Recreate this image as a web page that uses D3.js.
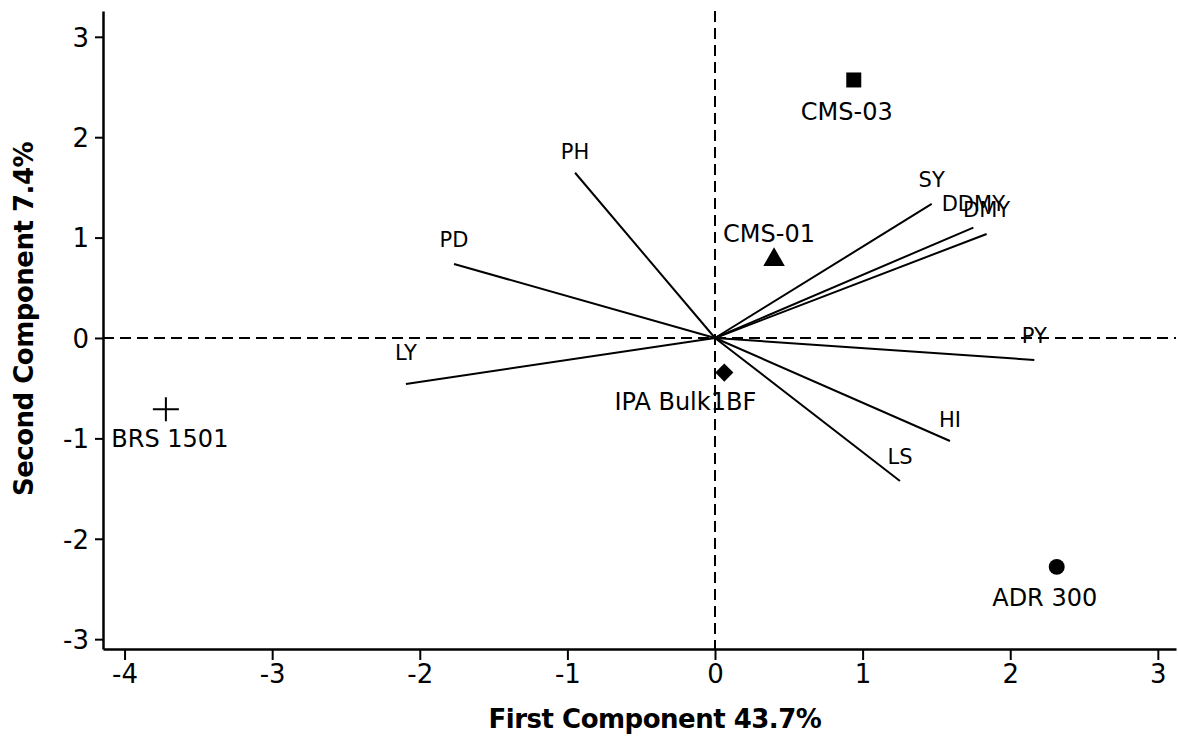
<!DOCTYPE html>
<html>
<head>
<meta charset="utf-8">
<script src="https://cdn.jsdelivr.net/npm/d3@7"></script>
<style>
  html, body { margin: 0; padding: 0; background: #fff; }
  svg { display: block; font-family: "DejaVu Sans", Verdana, sans-serif; }
</style>
</head>
<body>
<div id="chart"></div>
<script>
// genotype scores (first / second component)
const genotypes = ['CMS-03', 'CMS-01', 'IPA Bulk1BF', 'BRS 1501', 'ADR 300'];
const genoPC1 = [0.94, 0.40, 0.063, -3.72, 2.315];
const genoPC2 = [2.57, 0.78, -0.345, -0.71, -2.28];
const genoSymbol = ['square', 'triangle', 'diamond', 'plus', 'circle'];

// trait loadings
const traits = ['PH', 'PD', 'LY', 'SY', 'DDMY', 'DMY', 'PY', 'HI', 'LS'];
const traitPC1 = [-0.948, -1.768, -2.094, 1.468, 1.75, 1.84, 2.163, 1.592, 1.253];
const traitPC2 = [1.646, 0.737, -0.458, 1.335, 1.10, 1.036, -0.219, -1.026, -1.424];

const xTicks = [-4, -3, -2, -1, 0, 1, 2, 3];
const yTicks = [-3, -2, -1, 0, 1, 2, 3];
const xTitle = 'First Component 43.7%';
const yTitle = 'Second Component 7.4%';

const width = 1178, height = 737;
const margin = {top: 11, right: 2, bottom: 88, left: 103};

const svg = d3.select('#chart').append('svg')
    .attr('width', width)
    .attr('height', height);

const x = d3.scaleLinear()
    .domain([-4.146, 3.123])
    .range([margin.left, width - margin.right]);
const y = d3.scaleLinear()
    .domain([-3.098, 3.257])
    .range([height - margin.bottom, margin.top]);

// reference lines through origin
svg.append('line')
    .attr('x1', x(0)).attr('x2', x(0))
    .attr('y1', y.range()[1]).attr('y2', y.range()[0])
    .attr('stroke', '#000').attr('stroke-width', 2)
    .attr('stroke-dasharray', '11 6');
svg.append('line')
    .attr('x1', x.range()[0]).attr('x2', x.range()[1])
    .attr('y1', y(0)).attr('y2', y(0))
    .attr('stroke', '#000').attr('stroke-width', 2)
    .attr('stroke-dasharray', '11 6');

// axes
const fmt = d => String(d);
const xAxis = d3.axisBottom(x).tickValues(xTicks).tickSize(11).tickPadding(4).tickSizeOuter(0)
    .tickFormat(fmt);
const yAxis = d3.axisLeft(y).tickValues(yTicks).tickSize(8).tickPadding(6).tickSizeOuter(0)
    .tickFormat(fmt);

const gx = svg.append('g')
    .attr('transform', `translate(0, ${y.range()[0]})`)
    .call(xAxis);
const gy = svg.append('g')
    .attr('transform', `translate(${x.range()[0]}, 0)`)
    .call(yAxis);

[gx, gy].forEach(g => {
    g.select('.domain').attr('stroke', '#000').attr('stroke-width', 2.5);
    g.selectAll('.tick line').attr('stroke', '#000').attr('stroke-width', 2);
    g.selectAll('.tick text')
        .attr('fill', '#000')
        .style('font-family', '"DejaVu Sans", Verdana, sans-serif')
        .style('font-size', '26px');
});
gy.selectAll('.tick text').attr('dy', '0.36em');
gx.selectAll('.tick text').attr('dy', '0.72em');

// axis titles
svg.append('text')
    .attr('x', 655).attr('y', 728)
    .attr('text-anchor', 'middle')
    .style('font-size', '26px').style('font-weight', 'bold')
    .style('letter-spacing', '-0.5px')
    .text(xTitle);
svg.append('text')
    .attr('transform', `translate(33, 319) rotate(-90)`)
    .attr('text-anchor', 'middle')
    .style('font-size', '26px').style('font-weight', 'bold')
    .style('letter-spacing', '-0.5px')
    .text(yTitle);

// trait vectors
const traitData = traits.map((t, i) => ({name: t, pc1: traitPC1[i], pc2: traitPC2[i]}));
// small hand nudges for label placement (layout only)
const traitLabelDy = {LY: -24, PH: -14, HI: -14};

svg.append('g').selectAll('line')
    .data(traitData)
    .join('line')
    .attr('x1', x(0)).attr('y1', y(0))
    .attr('x2', d => x(d.pc1)).attr('y2', d => y(d.pc2))
    .attr('stroke', '#000').attr('stroke-width', 2);

svg.append('g').selectAll('text')
    .data(traitData)
    .join('text')
    .attr('x', d => x(d.pc1))
    .attr('y', d => y(d.pc2) + (traitLabelDy[d.name] || -17))
    .attr('text-anchor', 'middle')
    .style('font-size', '21px')
    .text(d => d.name);

// genotype markers
const genoData = genotypes.map((g, i) => ({name: g, pc1: genoPC1[i], pc2: genoPC2[i], sym: genoSymbol[i]}));
const symbolMap = {
    square: d3.symbol(d3.symbolSquare, 225),
    triangle: d3.symbol(d3.symbolTriangle, 200),
    diamond: d3.symbol(d3.symbolSquare, 165),
    circle: d3.symbol(d3.symbolCircle, 200)
};

const gm = svg.append('g');
genoData.forEach(d => {
    if (d.sym === 'plus') {
        const cx = x(d.pc1), cy = y(d.pc2);
        gm.append('path')
            .attr('d', `M${cx - 13},${cy}H${cx + 13}M${cx},${cy - 12}V${cy + 12}`)
            .attr('stroke', '#000').attr('stroke-width', 2).attr('fill', 'none');
    } else {
        const rot = d.sym === 'diamond' ? ' rotate(45)' : '';
        gm.append('path')
            .attr('transform', `translate(${x(d.pc1)}, ${y(d.pc2)})${rot}`)
            .attr('d', symbolMap[d.sym]())
            .attr('fill', '#000');
    }
});

// label placement (layout only): dx, dy relative to marker
const genoLabelPos = {
    'CMS-03': [-7, 40],
    'CMS-01': [-5, -18],
    'IPA Bulk1BF': [-39, 37],
    'BRS 1501': [4, 38],
    'ADR 300': [-12, 39]
};
svg.append('g').selectAll('text')
    .data(genoData)
    .join('text')
    .attr('x', d => x(d.pc1) + genoLabelPos[d.name][0])
    .attr('y', d => y(d.pc2) + genoLabelPos[d.name][1])
    .attr('text-anchor', 'middle')
    .style('font-size', '24px')
    .text(d => d.name);
</script>
</body>
</html>
